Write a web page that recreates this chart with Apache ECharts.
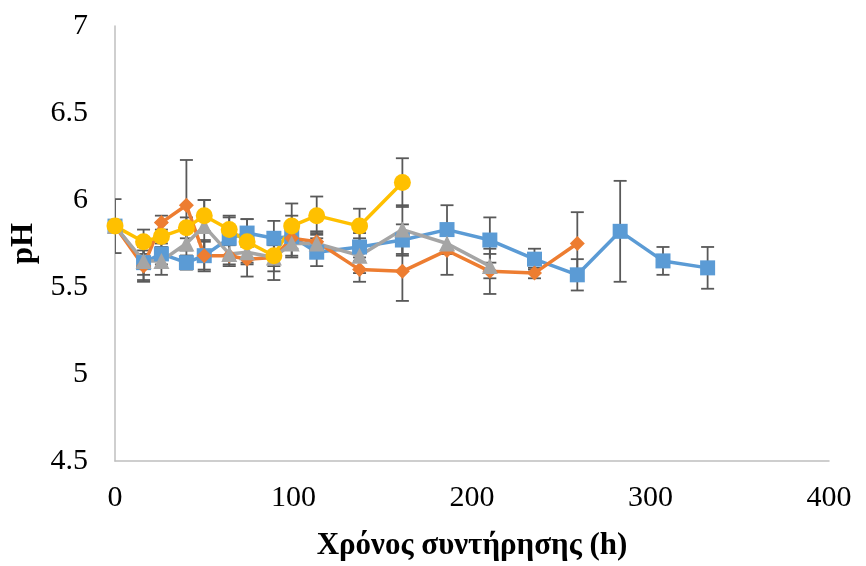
<!DOCTYPE html>
<html>
<head>
<meta charset="utf-8">
<script src="https://cdn.jsdelivr.net/npm/echarts@6/dist/echarts.min.js"></script>
<style>html,body{margin:0;padding:0;background:#fff;}#c{width:866px;height:566px;}</style>
</head>
<body>
<div id="c"></div>
<script>
const times = [0,16,26,40,50,64,74,89,99,113,137,161,186,210,235,259,283,307,332];
const blueVals = [5.85,5.64,5.69,5.64,5.68,5.78,5.81,5.78,5.79,5.70,5.73,5.77,5.83,5.77,5.66,5.57,5.82,5.65,5.61];
const blueErr  = [0.155,0.10,0.06,0.04,0.09,0.12,0.08,0.10,0.12,0.08,0.08,0.09,0.14,0.13,0.06,0.09,0.29,0.08,0.12];
const orangeVals = [5.85,5.62,5.87,5.97,5.68,5.68,5.66,5.67,5.78,5.76,5.60,5.59,5.71,5.59,5.58,5.75];
const orangeErr  = [0,0.09,0.04,0.26,0.08,0.06,0.10,0.08,0.06,0.06,0.07,0.17,0.14,0.13,0.03,0.18];
const grayVals = [5.85,5.65,5.65,5.75,5.85,5.69,5.70,5.67,5.75,5.75,5.68,5.83,5.75,5.62];
const grayErr  = [0,0.08,0.08,0.07,0.15,0.06,0.06,0.13,0.07,0.06,0.10,0.14,0.06,0.07];
const yellowVals = [5.85,5.76,5.79,5.84,5.91,5.83,5.76,5.68,5.85,5.91,5.85,6.10];
const yellowErr  = [0,0.07,0.08,0.06,0.09,0.08,0.13,0.06,0.13,0.11,0.10,0.14];

const xTicks = [0,100,200,300,400];
const yTicks = [4.5,5,5.5,6,6.5,7];

const font = 'Liberation Serif, Times New Roman, serif';

function pts(vals){ return vals.map((v,i)=>[times[i], v]); }
function errs(vals, e){ return vals.map((v,i)=>[times[i], v-e[i], v+e[i]]).filter((d,i)=>e[i]>0); }

function errSeries(data){
  return {
    type:'custom', z:1, silent:true, clip:true,
    data: data,
    renderItem: function(params, api){
      const lo = api.coord([api.value(0), api.value(1)]);
      const hi = api.coord([api.value(0), api.value(2)]);
      const w = 6.5;
      const st = {stroke:'#595959', lineWidth:1.8};
      return {type:'group', children:[
        {type:'line', shape:{x1:lo[0],y1:lo[1],x2:hi[0],y2:hi[1]}, style:st},
        {type:'line', shape:{x1:lo[0]-w,y1:lo[1],x2:lo[0]+w,y2:lo[1]}, style:st},
        {type:'line', shape:{x1:hi[0]-w,y1:hi[1],x2:hi[0]+w,y2:hi[1]}, style:st}
      ]};
    }
  };
}
function lineSeries(vals, color, symbol, size){
  return {
    type:'line', z:3, data: pts(vals), symbol: symbol, symbolSize: size,
    lineStyle:{color:color, width:3.5}, itemStyle:{color:color},
    animation:false
  };
}

const chart = echarts.init(document.getElementById('c'));
chart.setOption({
  animation:false,
  backgroundColor:'#fff',
  grid:{left:115, right:37, top:26, bottom:100},
  xAxis:{
    type:'value', min:0, max:400, interval:100,
    axisLine:{show:true, lineStyle:{color:'#bfbfbf', width:1.5}},
    axisTick:{show:false}, splitLine:{show:false},
    axisLabel:{color:'#000', fontFamily:font, fontSize:30, margin:22,
      formatter: v => xTicks.includes(v) ? String(v) : ''},
    name:'Χρόνος συντήρησης (h)', nameLocation:'middle', nameGap:69,
    nameTextStyle:{color:'#000', fontFamily:font, fontSize:31, fontWeight:'bold'}
  },
  yAxis:{
    type:'value', min:4.5, max:7, interval:0.5,
    axisLine:{show:true, lineStyle:{color:'#bfbfbf', width:1.5}},
    axisTick:{show:false}, splitLine:{show:false},
    axisLabel:{color:'#000', fontFamily:font, fontSize:30, margin:27,
      formatter: v => yTicks.some(t=>Math.abs(t-v)<1e-9) ? String(+v.toFixed(1)) : ''},
    name:'pH', nameLocation:'middle', nameGap:70, nameRotate:90,
    nameTextStyle:{color:'#000', fontFamily:font, fontSize:31, fontWeight:'bold'}
  },
  series:[
    errSeries(errs(blueVals, blueErr)),
    errSeries(errs(orangeVals, orangeErr)),
    errSeries(errs(grayVals, grayErr)),
    errSeries(errs(yellowVals, yellowErr)),
    lineSeries(blueVals, '#5b9bd5', 'rect', 15),
    lineSeries(orangeVals, '#ed7d31', 'diamond', 15),
    lineSeries(grayVals, '#a5a5a5', 'triangle', 16),
    lineSeries(yellowVals, '#ffc000', 'circle', 17)
  ]
});
</script>
</body>
</html>
